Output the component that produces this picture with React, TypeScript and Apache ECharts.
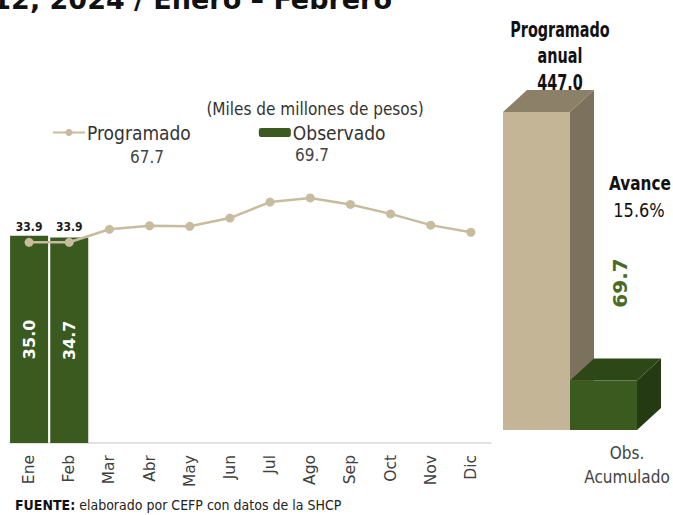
import React, { useEffect, useRef } from "react";
import * as echarts from "echarts";

const months = ["Ene", "Feb", "Mar", "Abr", "May", "Jun", "Jul", "Ago", "Sep", "Oct", "Nov", "Dic"];
const programado = [33.9, 33.9, 36.1, 36.7, 36.6, 38.0, 40.7, 41.4, 40.3, 38.7, 36.8, 35.6];
const observado = [35.0, 34.7];
const acumLabels = ["Programado anual", "Obs. Acumulado"];
const acumValues = [447.0, 69.7];
const programadoAcum = 67.7;
const observadoAcum = 69.7;
const titleText = "12, 2024 / Enero – Febrero";
const unitsText = "(Miles de millones de pesos)";
const sourceText = "elaborado por CEFP con datos de la SHCP";

const FONT = "'DejaVu Sans Condensed', 'DejaVu Sans', sans-serif";
const WIDE = "'DejaVu Sans', sans-serif";
const box3d = [
  { front: "#c4b596", top: "#8c8068", side: "#7c715d" },
  { front: "#3b5a1f", top: "#2e4716", side: "#243a12" },
];

export default function App() {
  const ref = useRef<HTMLDivElement>(null);
  useEffect(() => {
    const chart = echarts.init(ref.current!, undefined, { renderer: "svg" });
    const avance = ((acumValues[1] / acumValues[0]) * 100).toFixed(1);
    const option: any = {
      animation: false,
      backgroundColor: "#ffffff",
      grid: [
        { left: 9, width: 482, top: 87.8, height: 355.2 },
        { left: 503, width: 134, top: 74.3, height: 355.7 },
      ],
      xAxis: [
        {
          type: "category",
          gridIndex: 0,
          data: months,
          axisLine: { lineStyle: { color: "#d9d9d9", width: 1.5 } },
          axisTick: { show: false },
          axisLabel: { rotate: 90, margin: 12, fontSize: 15.5, color: "#404040", fontFamily: WIDE },
        },
        {
          type: "category",
          gridIndex: 1,
          data: acumLabels,
          show: false,
        },
      ],
      yAxis: [
        { type: "value", gridIndex: 0, min: 0, max: 60, show: false, splitLine: { show: false } },
        { type: "value", gridIndex: 1, min: 0, max: 500, show: false, splitLine: { show: false } },
      ],
      legend: {
        data: ["Programado", "Observado"],
        left: 52,
        top: 123,
        padding: 0,
        itemWidth: 32,
        itemHeight: 9,
        itemGap: 68,
        textStyle: { fontSize: 19, color: "#333", fontFamily: FONT, padding: [0, 0, 0, -3] },
      },
      series: [
        {
          name: "Observado",
          type: "bar",
          xAxisIndex: 0,
          yAxisIndex: 0,
          data: observado,
          barWidth: 38,
          itemStyle: { color: "#3b5a1f" },
          label: {
            show: true,
            position: "inside",
            rotate: 90,
            fontSize: 16,
            fontWeight: "bold",
            color: "#ffffff",
            fontFamily: WIDE,
            formatter: (p: any) => Number(p.value).toFixed(1),
          },
          z: 2,
        },
        {
          name: "Programado",
          type: "line",
          xAxisIndex: 0,
          yAxisIndex: 0,
          data: programado.map((v, i) => (i < observado.length ? { value: v, label: { show: true } } : v)),
          symbol: "circle",
          symbolSize: 9,
          lineStyle: { color: "#c8bc9e", width: 2.5 },
          itemStyle: { color: "#c8bc9e" },
          label: {
            show: false,
            position: "top",
            distance: 5,
            fontSize: 12,
            fontWeight: "bold",
            color: "#1a1a1a",
            fontFamily: FONT,
            formatter: (p: any) => Number(p.value).toFixed(1),
          },
          z: 3,
        },
        {
          type: "custom",
          xAxisIndex: 1,
          yAxisIndex: 1,
          data: acumValues.map((v, i) => [i, v]),
          encode: { x: 0, y: 1 },
          renderItem: (params: any, api: any) => {
            const i = api.value(0);
            const v = api.value(1);
            const top = api.coord([i, v]);
            const base = api.coord([i, 0]);
            const w = api.size([1, 0])[0];
            const x0 = top[0] - w / 2;
            const x1 = top[0] + w / 2;
            const yT = top[1];
            const yB = base[1];
            const dx = 24;
            const dy = -22;
            const c = box3d[i];
            return {
              type: "group",
              children: [
                {
                  type: "polygon",
                  shape: { points: [[x1, yT], [x1 + dx, yT + dy], [x1 + dx, yB + dy], [x1, yB]] },
                  style: { fill: c.side },
                },
                {
                  type: "polygon",
                  shape: { points: [[x0, yT], [x0 + dx, yT + dy], [x1 + dx, yT + dy], [x1, yT]] },
                  style: { fill: c.top },
                },
                {
                  type: "rect",
                  shape: { x: x0, y: yT, width: w, height: yB - yT },
                  style: { fill: c.front },
                },
              ],
            };
          },
          z: 2,
        },
      ],
      graphic: [
        {
          type: "text",
          x: 392,
          y: -1,
          style: {
            text: titleText,
            align: "right",
            verticalAlign: "middle",
            font: `bold 27px ${WIDE}`,
            fill: "#111",
          },
        },
        {
          type: "text",
          x: 315,
          y: 109,
          style: { text: unitsText, align: "center", verticalAlign: "middle", font: `17px ${FONT}`, fill: "#333" },
        },
        {
          type: "text",
          x: 147,
          y: 157,
          style: { text: programadoAcum.toFixed(1), align: "center", verticalAlign: "middle", font: `17px ${FONT}`, fill: "#444" },
        },
        {
          type: "text",
          x: 312,
          y: 155,
          style: { text: observadoAcum.toFixed(1), align: "center", verticalAlign: "middle", font: `17px ${FONT}`, fill: "#444" },
        },
        {
          type: "text",
          x: 560,
          y: 56,
          scaleY: 1.3,
          style: {
            text: "Programado\nanual\n" + acumValues[0].toFixed(1),
            align: "center",
            verticalAlign: "middle",
            font: `bold 16px ${FONT}`,
            lineHeight: 20.3,
            fill: "#111",
          },
        },
        {
          type: "text",
          x: 640,
          y: 183,
          scaleY: 1.1,
          style: { text: "Avance", align: "center", verticalAlign: "middle", font: `bold 17px ${FONT}`, fill: "#111" },
        },
        {
          type: "text",
          x: 639,
          y: 210,
          scaleY: 1.05,
          style: { text: avance + "%", align: "center", verticalAlign: "middle", font: `18px ${FONT}`, fill: "#111" },
        },
        {
          type: "text",
          x: 620,
          y: 283,
          rotation: Math.PI / 2,
          style: {
            text: acumValues[1].toFixed(1),
            align: "center",
            verticalAlign: "middle",
            font: `bold 20px ${WIDE}`,
            fill: "#4a6b25",
          },
        },
        {
          type: "text",
          x: 627,
          y: 465,
          style: {
            text: "Obs.\nAcumulado",
            align: "center",
            verticalAlign: "middle",
            font: `17px ${FONT}`,
            lineHeight: 24,
            fill: "#444",
          },
        },
        {
          type: "text",
          x: 15,
          y: 505,
          style: {
            text: "{b|FUENTE:} " + sourceText,
            verticalAlign: "middle",
            font: `14px ${FONT}`,
            fill: "#222",
            rich: { b: { fontWeight: "bold", fontSize: 14, fontFamily: FONT, fill: "#111" } },
          },
        },
      ],
    };
    chart.setOption(option);
    return () => chart.dispose();
  }, []);
  return <div ref={ref} style={{ position: "absolute", left: 0, top: 0, width: 673, height: 515 }} />;
}
